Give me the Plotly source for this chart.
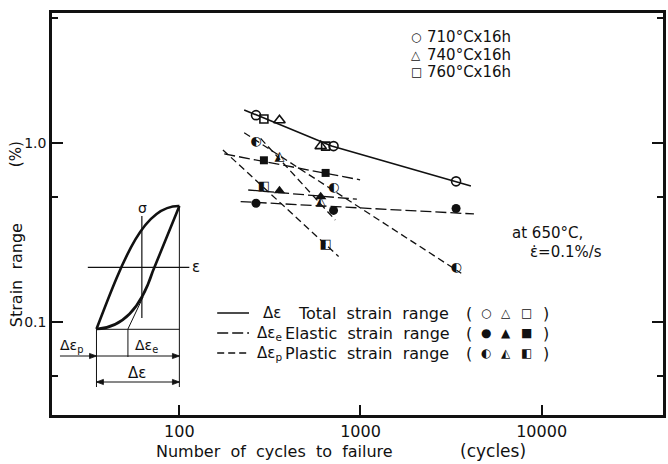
import plotly.graph_objects as go

# ---------------- data ----------------
# 710 C x 16h (circles)
N_710 = [265, 710, 3370]
total_710 = [1.43, 0.96, 0.61]
elastic_710 = [0.46, 0.42, 0.43]
plastic_710 = [1.02, 0.56, 0.20]
# 740 C x 16h (triangles)
N_740 = [357, 603]
total_740 = [1.34, 0.96]
elastic_740 = [0.54, 0.50]
plastic_740 = [0.84, 0.47]
# 760 C x 16h (squares)
N_760 = [293, 642]
total_760 = [1.36, 0.96]
elastic_760 = [0.80, 0.68]
plastic_760 = [0.57, 0.27]

# fitted lines
fit_total_N = [228, 693, 4070]
fit_total = [1.53, 0.962, 0.575]
fit_el710_N = [218, 4230]
fit_el710 = [0.470, 0.401]
fit_el740_N = [240, 955]
fit_el740 = [0.546, 0.485]
fit_el760_N = [177, 995]
fit_el760 = [0.868, 0.622]
fit_pl710_N = [228, 3600]
fit_pl710 = [1.14, 0.187]
fit_pl740_N = [281, 726]
fit_pl740 = [1.06, 0.371]
fit_pl760_N = [174, 757]
fit_pl760 = [0.914, 0.232]

x_tickvals = [100, 1000, 10000]
x_ticktext = ["100", "1000", "10000"]
y_tickvals = [0.1, 1.0]
y_ticktext = ["0.1", "1.0"]
y_minorvals = [0.05, 0.5, 5]

conditions = ["710°Cx16h", "740°Cx16h", "760°Cx16h"]

# ---------------- figure ----------------
W, H = 668, 464
ML, MR, MT, MB = 52, 2, 13, 49
PW, PH = W - ML - MR, H - MT - MB
INK = "#111111"
FONT = "DejaVu Sans"
GLYPH = "DejaVu Sans"


def px(x):
    return (x - ML) / PW


def py(y):
    return (H - MB - y) / PH


def P(x, y):
    return f"{px(x):.4f},{py(y):.4f}"


fig = go.Figure()

SOLID = "solid"
EL_DASH = "11px,4px"
PL_DASH = "7px,4px"

# fitted lines
fits = [
    (fit_total_N, fit_total, SOLID, 1.6),
    (fit_el710_N, fit_el710, EL_DASH, 1.3),
    (fit_el740_N, fit_el740, EL_DASH, 1.3),
    (fit_el760_N, fit_el760, EL_DASH, 1.3),
    (fit_pl710_N, fit_pl710, PL_DASH, 1.3),
    (fit_pl740_N, fit_pl740, PL_DASH, 1.3),
    (fit_pl760_N, fit_pl760, PL_DASH, 1.3),
]
for xs, ys, dash, w in fits:
    fig.add_trace(go.Scatter(x=xs, y=ys, mode="lines",
                             line=dict(color=INK, width=w, dash=dash),
                             hoverinfo="skip", showlegend=False))

# open markers (total), filled markers (elastic), half-filled glyphs (plastic)
groups = [
    (N_710, total_710, elastic_710, plastic_710, "circle", "◐", 9),
    (N_740, total_740, elastic_740, plastic_740, "triangle-up", "◭", 10),
    (N_760, total_760, elastic_760, plastic_760, "square", "◧", 8),
]
for N, tot, el, pl, sym, half, sz in groups:
    fig.add_trace(go.Scatter(x=N, y=tot, mode="markers",
                             marker=dict(symbol=sym + "-open", size=sz, color=INK,
                                         line=dict(color=INK, width=1.6)),
                             showlegend=False))
    fig.add_trace(go.Scatter(x=N, y=el, mode="markers",
                             marker=dict(symbol=sym, size=sz, color=INK,
                                         line=dict(color=INK, width=0)),
                             showlegend=False))
    fig.add_trace(go.Scatter(x=N, y=pl, mode="text", text=[half] * len(N),
                             textposition="middle center",
                             textfont=dict(family=GLYPH, size=13, color=INK),
                             showlegend=False))

shapes = []
annotations = []


def text(x, y, s, size=16, anchor="left", angle=0, family=FONT):
    annotations.append(dict(x=px(x), y=py(y), xref="paper", yref="paper", text=s,
                            showarrow=False, xanchor=anchor, yanchor="middle",
                            textangle=angle, font=dict(family=family, size=size, color=INK)))


def line(x0, y0, x1, y1, w=1.0, dash="solid"):
    shapes.append(dict(type="line", xref="paper", yref="paper",
                       x0=px(x0), y0=py(y0), x1=px(x1), y1=py(y1),
                       line=dict(color=INK, width=w, dash=dash)))


def head(x, y, direction):
    # small filled arrowhead with its tip at (x, y); direction +1 right, -1 left
    L, Wd = 7, 2.6
    pth = f"M{P(x, y)} L{P(x - direction * L, y - Wd)} L{P(x - direction * L, y + Wd)} Z"
    shapes.append(dict(type="path", xref="paper", yref="paper", path=pth,
                       fillcolor=INK, line=dict(color=INK, width=0.8)))


# axis titles
NB = "\u00a0"
text(155, 451, f"Number{NB} of{NB} cycles{NB} to{NB} failure", size=16)
text(460, 451, "(cycles)", size=17)
text(16, 275, f"Strain{NB} range", size=16, anchor="center", angle=-90)
text(16, 154, "(%)", size=15, anchor="center", angle=-90)

# condition key (top right)
key_glyphs = ["○", "△", "□"]
key_y = [37, 55, 72]
for g, c, yy in zip(key_glyphs, conditions, key_y):
    text(418, yy, g, size=12, anchor="center", family=GLYPH)
    text(427, yy, c, size=15)

# test conditions
text(512, 233, "at 650°C,", size=15)
text(530, 252, "ε̇=0.1%/s", size=15)

# line-style legend
leg_y = [313, 333, 353]
leg_dash = [SOLID, EL_DASH, PL_DASH]
leg_sym = ["Δε", "Δε<sub>e</sub>", "Δε<sub>p</sub>"]
leg_sym_x = [262, 256, 256]
leg_name = [f"Total{NB} strain{NB} range", f"Elastic{NB} strain{NB} range",
            f"Plastic{NB} strain{NB} range"]
leg_name_x = [297, 284, 284]
leg_glyphs = [["○", "△", "□"], ["●", "▲", "■"], ["◐", "◭", "◧"]]
for yy, d, s, sx, nm, nx, gl in zip(leg_y, leg_dash, leg_sym, leg_sym_x,
                                    leg_name, leg_name_x, leg_glyphs):
    line(218, yy, 250, yy, w=1.3, dash=d)
    text(sx, yy, s, size=15)
    text(nx, yy, nm, size=16)
    text(471, yy, "(", size=16, anchor="center")
    for g, gx in zip(gl, [488, 508, 529]):
        text(gx, yy, g, size=12, anchor="center", family=GLYPH)
    text(548, yy, ")", size=16, anchor="center")

# ---------------- inset: hysteresis loop ----------------
upper = f"M{P(96.7, 329)} C{P(125, 255)} {P(145, 205)} {P(180, 206)}"
lower = f"M{P(96.7, 329)} C{P(120, 328)} {P(140, 312)} {P(153, 272)} L{P(180, 206)}"
for pth in (upper, lower):
    shapes.append(dict(type="path", xref="paper", yref="paper", path=pth,
                       line=dict(color=INK, width=2.6)))
line(128.3, 329, 143.5, 297, w=1.0)           # elastic unloading slope
line(142.3, 216, 142.3, 318, w=1.2)           # sigma axis
line(88, 267.3, 190, 267.3, w=1.2)            # epsilon axis
line(96.7, 329.3, 180, 329.3, w=1.0)          # base line
line(96.7, 329, 96.7, 387, w=1.0)
line(128.3, 329, 128.3, 357, w=1.0)
line(180, 206, 180, 387, w=1.0)
line(60, 356, 180, 356, w=1.0)
line(96.7, 382, 180, 382, w=1.0)
head(96.7, 356, 1)
head(180, 356, 1)
head(96.7, 382, -1)
head(180, 382, 1)
text(142.5, 208, "σ", size=14, anchor="center")
text(197, 267, "ε", size=15, anchor="center")
text(72, 346, "Δε<sub>p</sub>", size=14, anchor="center")
text(147, 346, "Δε<sub>e</sub>", size=14, anchor="center")
text(137, 373, "Δε", size=15, anchor="center")

fig.update_layout(
    width=W, height=H,
    margin=dict(l=ML, r=MR, t=MT, b=MB, pad=0),
    paper_bgcolor="white", plot_bgcolor="white",
    font=dict(family=FONT, color=INK),
    shapes=shapes, annotations=annotations,
    showlegend=False,
)
fig.update_xaxes(type="log", range=[1.297, 4.670],
                 tickmode="array", tickvals=x_tickvals, ticktext=x_ticktext,
                 ticks="inside", ticklen=10, tickwidth=1.5, tickcolor=INK,
                 showline=True, linewidth=2.5, linecolor=INK, mirror=True,
                 showgrid=False, zeroline=False,
                 tickfont=dict(family=FONT, size=16, color=INK))
fig.update_yaxes(type="log", range=[-1.52, 0.726],
                 tickmode="array", tickvals=y_tickvals, ticktext=y_ticktext,
                 ticks="inside", ticklen=11, tickwidth=1.5, tickcolor=INK,
                 minor=dict(tickmode="array", tickvals=y_minorvals, ticks="inside",
                            ticklen=6, tickwidth=1.5, tickcolor=INK, showgrid=False),
                 showline=True, linewidth=2.5, linecolor=INK, mirror="ticks",
                 showgrid=False, zeroline=False,
                 tickfont=dict(family=FONT, size=14, color=INK))

fig.write_html("out.html", config={"displayModeBar": False},
               post_script="document.body.style.margin='0';document.body.style.overflow='hidden';")
